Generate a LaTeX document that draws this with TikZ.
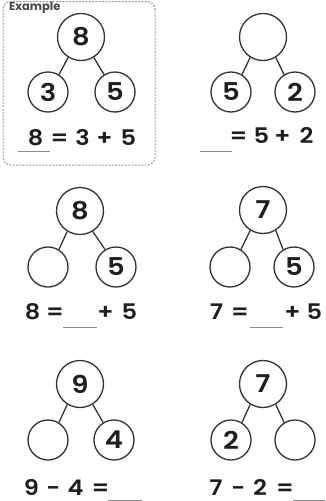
\documentclass[tikz,border=0pt]{standalone}
\usepackage{fontspec}
\setmainfont{Poppins}
\newfontfamily\semi{Poppins SemiBold}[FakeStretch=1.12]
\definecolor{ink}{HTML}{333333}
\definecolor{txt}{HTML}{1E1E1E}
\definecolor{boxgray}{HTML}{9A9A9A}
\definecolor{blankgray}{HTML}{8C8C8C}
\begin{document}
\begin{tikzpicture}[x=1pt,y=-1pt,
  big/.style={circle,draw=ink,line width=1.3pt,minimum size=47pt,inner sep=0pt,font=\semi\fontsize{24.5}{24.5}\selectfont,text=txt},
  small/.style={circle,draw=ink,line width=1.3pt,minimum size=40pt,inner sep=0pt,font=\semi\fontsize{24.5}{24.5}\selectfont,text=txt},
  link/.style={draw=ink,line width=1.3pt},
  tok/.style={font=\semi\fontsize{21.5}{21.5}\selectfont,text=txt,inner sep=0pt,anchor=base},
  blank/.style={draw=blankgray,line width=1pt}]
\useasboundingbox (0,0) rectangle (325,501);
% example frame
\draw[boxgray,line width=1pt,dash pattern=on 2pt off 1.3pt,rounded corners=8pt] (3,1.5) rectangle (155,165);
\node[anchor=west,inner sep=0pt,text=ink!90,font=\fontsize{11.5}{11.5}\selectfont\bfseries] (ex) at (9,8) {Example};
% panel 1
\node[big] (t1) at (81,37) {8};
\node[small] (l1) at (48,92) {3};
\node[small] (r1) at (115,92) {5};
\draw[link] (t1.238) -- (l1.58);
\draw[link] (t1.302) -- (r1.122);
\foreach \s/\x [count=\i] in {8/35.5,=/59.5,3/82.5,+/104.5,5/128.5}
  \node[tok] (e1-\i) at (\x,145) {\s};
\draw[blank] (18,151) -- (50,151);
% panel 2
\node[big] (t2) at (263,37) {};
\node[small] (l2) at (231,92) {5};
\node[small] (r2) at (295,92) {2};
\draw[link] (t2.238) -- (l2.58);
\draw[link] (t2.302) -- (r2.122);
\foreach \s/\x [count=\i] in {=/238.5,5/261.5,+/282.5,2/306.5}
  \node[tok] (e2-\i) at (\x,143) {\s};
\draw[blank] (200,151) -- (232,151);
% panel 3
\node[big] (t3) at (80,211) {8};
\node[small] (l3) at (48,267) {};
\node[small] (r3) at (116,267) {5};
\draw[link] (t3.238) -- (l3.58);
\draw[link] (t3.302) -- (r3.122);
\foreach \s/\x [count=\i] in {8/32.5,=/55,+/105.5,5/129.5}
  \node[tok] (e3-\i) at (\x,319) {\s};
\draw[blank] (63,327) -- (97,327);
% panel 4
\node[big] (t4) at (263,210) {7};
\node[small] (l4) at (230,267) {};
\node[small] (r4) at (294,267) {5};
\draw[link] (t4.238) -- (l4.58);
\draw[link] (t4.302) -- (r4.122);
\foreach \s/\x [count=\i] in {7/216.5,=/240,+/292.5,5/314.5}
  \node[tok] (e4-\i) at (\x,319) {\s};
\draw[blank] (250,327) -- (283,327);
% panel 5
\node[big] (t5) at (80,384) {9};
\node[small] (l5) at (48,440) {};
\node[small] (r5) at (114,440) {4};
\draw[link] (t5.238) -- (l5.58);
\draw[link] (t5.302) -- (r5.122);
\foreach \s/\x [count=\i] in {9/31.5,-/53.5,4/75.5,=/100.5}
  \node[tok] (e5-\i) at (\x,495) {\s};
\draw[blank] (108,500) -- (142,500);
% panel 6
\node[big] (t6) at (263,384) {7};
\node[small] (l6) at (231,440) {2};
\node[small] (r6) at (295,440) {};
\draw[link] (t6.238) -- (l6.58);
\draw[link] (t6.302) -- (r6.122);
\foreach \s/\x [count=\i] in {7/216,-/238.5,2/260,=/285}
  \node[tok] (e6-\i) at (\x,495) {\s};
\draw[blank] (293,500) -- (325,500);
\end{tikzpicture}
\end{document}
